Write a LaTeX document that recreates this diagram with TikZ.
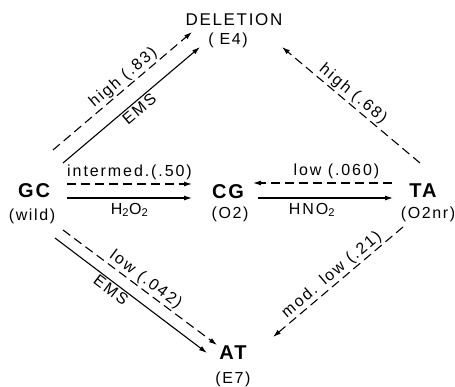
\documentclass[tikz,border=0pt]{standalone}
\usepackage{fontspec}
\setmainfont{Liberation Sans}
\newfontfamily\basefont[LetterSpace=10]{Liberation Sans}
\newfontfamily\lblfont[LetterSpace=12]{Liberation Sans}
\usepackage{tikz}
\usetikzlibrary{arrows.meta}
\tikzset{>=latex}
\tikzstyle{base} = [draw=none, inner sep=1, font=\basefont\bfseries\fontsize{20}{22}\selectfont]
\tikzstyle{del} = [draw=none, inner sep=1, font=\basefont\fontsize{17}{19}\selectfont]
\tikzstyle{sub} = [draw=none, inner sep=1, font=\basefont\fontsize{16}{18}\selectfont]
\tikzstyle{lbl} = [inner sep=1.5, font=\lblfont\fontsize{16}{18}\selectfont]
\tikzstyle{arr} = [-{Latex[length=8pt, width=5pt]}, line width=1.1pt]
\tikzstyle{darr} = [arr, dash pattern=on 9pt off 5pt]

\begin{document}
\begin{tikzpicture}[x=1pt, y=-1pt]
\useasboundingbox (0,0) rectangle (455,386);
% bases and states
\node [base] (GC) at (34,191) {GC};
\node [sub] (GCs) at (32,216) {(wild)};
\node [base] (CG) at (228,192) {CG};
\node [sub] (CGs) at (230,214) {(O2)};
\node [base] (TA) at (423,191) {TA};
\node [sub] (TAs) at (428,214) {(O2nr)};
\node [del] (DEL) at (234,20) {DELETION};
\node [sub] (DELs) at (228,40) {( E4)};
\node [base] (AT) at (233,353) {AT};
\node [sub] (ATs) at (233,379) {(E7)};
% GC -> CG
\draw [darr] ([shift={(33,-7)}]GC.center) to node [lbl, midway, above=2pt] {intermed.(.50)} ([shift={(-36,-8)}]CG.center);
\draw [arr] ([shift={(33,7)}]GC.center) to node [lbl, midway, below=3pt] {H\textsubscript{2}O\textsubscript{2}} ([shift={(-36,6)}]CG.center);
% CG <-> TA
\draw [arr] ([shift={(30,6)}]CG.center) to node [lbl, pos=0.4, below=3pt] {HNO\textsubscript{2}} ([shift={(-30,7)}]TA.center);
\draw [darr] ([shift={(-31,-8)}]TA.center) to node [lbl, pos=0.4, above=2pt] {low (.060)} ([shift={(25,-9)}]CG.center);
% to DELETION
\draw [darr] ([shift={(19,-41)}]GC.center) to node [lbl, pos=0.55, sloped, above] {high (.83)} ([shift={(-42,12)}]DEL.center);
\draw [arr] ([shift={(29,-28)}]GC.center) to node [lbl, pos=0.52, sloped, below] {EMS} ([shift={(-34,27)}]DEL.center);
\draw [darr] ([shift={(-3,-28)}]TA.center) to node [lbl, pos=0.53, sloped, above] {high (.68)} ([shift={(48,27)}]DEL.center);
% to AT
\draw [darr] ([shift={(29,39)}]GC.center) to node [lbl, pos=0.5, sloped, above] {low (.042)} ([shift={(-16,-8)}]AT.center);
\draw [arr] ([shift={(21,47)}]GC.center) to node [lbl, pos=0.4, sloped, below] {EMS} ([shift={(-26,0)}]AT.center);
\draw [darr] ([shift={(-20,36)}]TA.center) to node [lbl, pos=0.5, sloped, above] {mod. low (.21)} ([shift={(40,-16)}]AT.center);
\end{tikzpicture}
\end{document}
